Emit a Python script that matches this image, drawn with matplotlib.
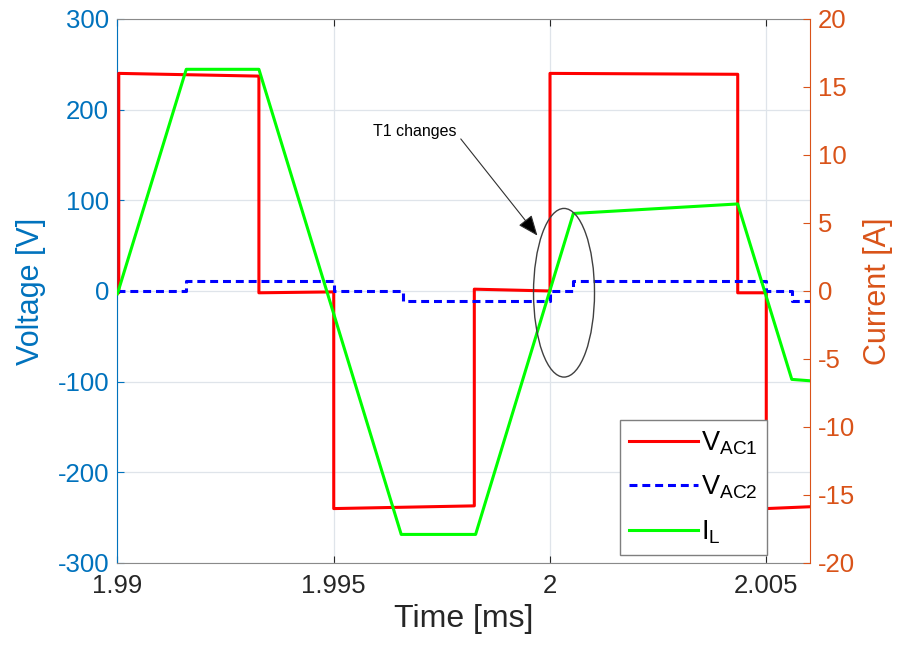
import numpy as np
import matplotlib.pyplot as plt
from matplotlib.patches import Ellipse

plt.rcParams['font.family'] = ['Liberation Sans', 'DejaVu Sans']
plt.rcParams['mathtext.fontset'] = 'custom'
plt.rcParams['mathtext.rm'] = 'Liberation Sans'
plt.rcParams['mathtext.it'] = 'Liberation Sans'
plt.rcParams['axes.unicode_minus'] = False

# time axis in ms
t_v1 = [1.99, 1.99003, 1.99003, 1.99327, 1.99327, 1.995, 1.995, 1.99825,
        1.99825, 2.0, 2.0, 2.00434, 2.00434, 2.005, 2.005, 2.006]
v_ac1 = [-2, -2, 240, 237, -2, -1, -240, -237, 2, 0, 240, 239, -2, -2, -240, -238]

t_v2 = [1.99, 1.99159, 1.99159, 1.995, 1.995, 1.99659, 1.99659, 2.0,
        2.0, 2.00054, 2.00054, 2.005, 2.005, 2.00559, 2.00559, 2.006]
v_ac2 = [0, 0, 11, 11, 0, 0, -11, -11, 0, 0, 11, 11, 0, 0, -11, -11]

t_il = [1.99, 1.99159, 1.99327, 1.99656, 1.99828, 2.00054, 2.00434, 2.00559, 2.006]
i_l = [-0.2, 16.3, 16.3, -17.9, -17.9, 5.7, 6.4, -6.5, -6.6]

xticks = [1.99, 1.995, 2.0, 2.005]
xticklabels = ['1.99', '1.995', '2', '2.005']

blue_ax = '#0072BD'
orange_ax = '#D95319'
dark = '#262626'

fig = plt.figure(figsize=(9.05, 6.48), dpi=100)
ax = fig.add_axes([0.1298, 0.1312, 0.7647, 0.8395])
ax2 = ax.twinx()

ax.plot(t_v1, v_ac1, color='#FF0000', lw=2.2, label='V$_{AC1}$', zorder=3)
ax.plot(t_v2, v_ac2, color='#0000FF', lw=2.2, dashes=(2.6, 1.6), label='V$_{AC2}$', zorder=4)
ax2.plot(t_il, i_l, color='#00FF00', lw=2.2, label='I$_L$', zorder=3)

ax.set_xlim(1.99, 2.006)
ax.set_ylim(-300, 300)
ax2.set_ylim(-20, 20)
ax.set_xticks(xticks)
ax.set_xticklabels(xticklabels)
ax.set_yticks(np.arange(-300, 301, 100))
ax2.set_yticks(np.arange(-20, 21, 5))

ax.grid(True, color='#dfe4ea', lw=0.9)
ax.set_axisbelow(True)

ax.tick_params(axis='x', direction='in', top=True, length=5, width=0.8,
               colors=dark, labelsize=18.5, pad=8)
ax.tick_params(axis='y', direction='in', length=5, width=0.8,
               colors=blue_ax, labelsize=18.5, pad=6)
ax2.tick_params(axis='y', direction='in', length=5, width=0.8,
                colors=orange_ax, labelsize=18.5, pad=6)

ax.spines['left'].set_color(blue_ax)
ax.spines['right'].set_visible(False)
ax.spines['top'].set_color('#8a8a8a')
ax.spines['bottom'].set_color('#8a8a8a')
ax2.spines['right'].set_color(orange_ax)
ax2.spines['left'].set_visible(False)
ax2.spines['top'].set_visible(False)
ax2.spines['bottom'].set_visible(False)

ax.set_xlabel('Time [ms]', fontsize=23, color=dark, labelpad=4)
ax.set_ylabel('Voltage [V]', fontsize=22, color=blue_ax, labelpad=8)
ax2.set_ylabel('Current [A]', fontsize=22, color=orange_ax, labelpad=6)

# mark the T1 change
ax2.add_patch(Ellipse((2.000324, -0.13), 0.00141, 12.4, fill=False,
                      edgecolor='#404040', lw=1.0, zorder=5))
ax.annotate('T1 changes', xy=(1.99971, 61), xytext=(1.99591, 176),
            fontsize=11.5, color='black', va='center', ha='left',
            arrowprops=dict(arrowstyle='-|>,head_length=1.1,head_width=0.45',
                            facecolor='black', edgecolor='#303030',
                            lw=0.8, shrinkA=0, shrinkB=0,
                            relpos=(1.05, 0.0)),
            zorder=6)

h1, l1 = ax.get_legend_handles_labels()
h2, l2 = ax2.get_legend_handles_labels()
leg = ax2.legend(h1 + h2, l1 + l2, loc='lower right',
                 bbox_to_anchor=(0.9386, 0.0147), borderaxespad=0,
                 fontsize=19.5, fancybox=False, framealpha=1,
                 edgecolor='#7f7f7f', handlelength=2.55, handletextpad=0.1,
                 labelspacing=0.62, borderpad=0.35)
leg.get_frame().set_linewidth(1.0)

fig.savefig('out.png', dpi=100)
